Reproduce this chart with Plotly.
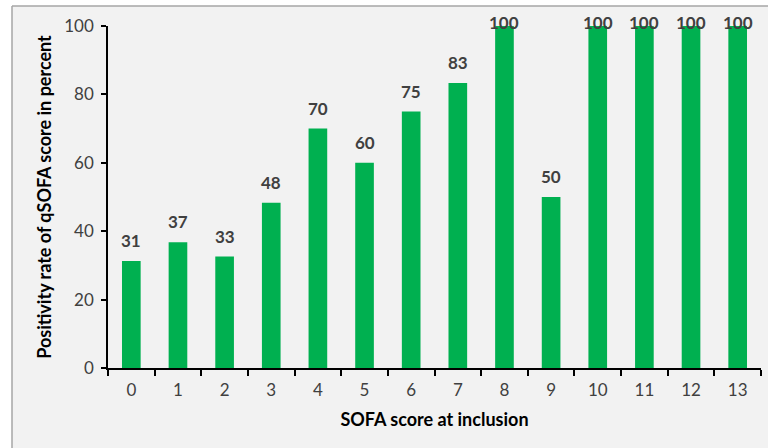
import plotly.graph_objects as go

categories = ["0", "1", "2", "3", "4", "5", "6", "7", "8", "9", "10", "11", "12", "13"]
values = [31.3, 36.8, 32.6, 48.3, 70.0, 60.0, 75.0, 83.3, 100.0, 50.0, 100.0, 100.0, 100.0, 100.0]
labels = ["31", "37", "33", "48", "70", "60", "75", "83", "100", "50", "100", "100", "100", "100"]
y_ticks = [0, 20, 40, 60, 80, 100]

W, H = 768, 448
L, R, T, B = 108, 7, 26, 80
pw, ph = W - L - R, H - T - B

def px(x):
    return (x - L) / pw

def py(y):
    return (H - B - y) / ph

FONT = "Lato, Calibri, Arial, sans-serif"
TXT = "#404040"

fig = go.Figure()
fig.add_trace(go.Bar(
    x=categories, y=values,
    marker=dict(color="#00b050", line=dict(width=0)),
    cliponaxis=False,
    hoverinfo="skip",
))

for c, v, t in zip(categories, values, labels):
    if v >= 100:
        fig.add_annotation(x=c, y=v, text=t, showarrow=False, yanchor="middle", yshift=4,
                           font=dict(family=FONT, size=17, color=TXT, weight="bold"))
    else:
        fig.add_annotation(x=c, y=v, text=t, showarrow=False, yanchor="bottom", yshift=8,
                           font=dict(family=FONT, size=17, color=TXT, weight="bold"))

# outer white margin + border of the chart panel
fig.add_shape(type="rect", xref="paper", yref="paper", x0=px(0), x1=px(12), y0=py(H), y1=py(0),
              fillcolor="white", line=dict(width=0), layer="below")
fig.add_shape(type="rect", xref="paper", yref="paper", x0=px(0), x1=px(W), y0=py(6), y1=py(0),
              fillcolor="white", line=dict(width=0), layer="below")
fig.add_shape(type="line", xref="paper", yref="paper", x0=px(12), x1=px(12), y0=py(6), y1=py(H),
              line=dict(color="#a6a6a6", width=1.5))
fig.add_shape(type="line", xref="paper", yref="paper", x0=px(12), x1=px(W), y0=py(6), y1=py(6),
              line=dict(color="#a6a6a6", width=1.5))

fig.update_layout(
    width=W, height=H,
    margin=dict(l=L, r=R, t=T, b=B, autoexpand=False),
    paper_bgcolor="#f2f2f2", plot_bgcolor="#f2f2f2",
    bargap=0.6,
    showlegend=False,
    font=dict(family=FONT, size=17, color=TXT),
    xaxis=dict(
        type="category",
        automargin=False,
        showline=True, linecolor="#000000", linewidth=1.5,
        ticks="outside", ticklen=6, tickcolor="#000000", tickwidth=1.5,
        tickson="boundaries",
        ticklabelstandoff=6,
        showgrid=False, zeroline=False,
        tickfont=dict(family=FONT, size=17, color=TXT),
        title=dict(text="SOFA score at inclusion", standoff=14,
                   font=dict(family=FONT, size=18, color="#000000", weight="bold")),
    ),
    yaxis=dict(
        range=[0, 100],
        automargin=False,
        tickvals=y_ticks,
        showline=True, linecolor="#000000", linewidth=1.5,
        ticks="outside", ticklen=5, tickcolor="#000000", tickwidth=1.5,
        ticklabelstandoff=4,
        showgrid=False, zeroline=False,
        tickfont=dict(family=FONT, size=17, color=TXT),
        title=dict(text="Positivity rate of qSOFA score in percent", standoff=8,
                   font=dict(family=FONT, size=18, color="#000000", weight="bold")),
    ),
)

fig.write_html("out.html", config={"displayModeBar": False},
               post_script="document.body.style.margin='0px';document.body.style.overflow='hidden';")
